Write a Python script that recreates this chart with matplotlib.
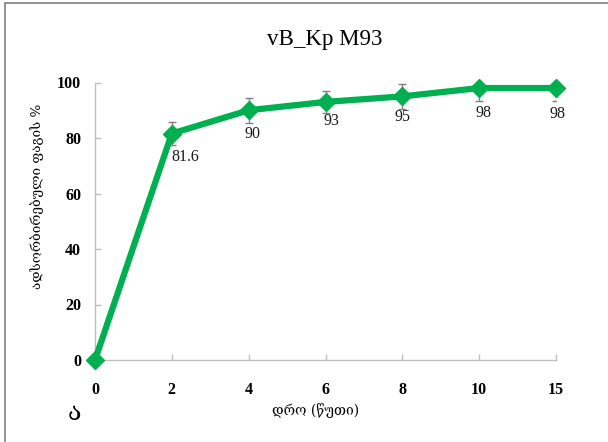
import matplotlib
matplotlib.use("Agg")
import matplotlib.pyplot as plt
from matplotlib.patches import Rectangle

categories = ["0", "2", "4", "6", "8", "10", "15"]
values = [0, 81.6, 90, 93, 95, 98, 98]
errors = [0, 4, 4.5, 4, 4.5, 4.7, 4.7]
labels = ["", "81.6", "90", "93", "95", "98", "98"]
y_ticks = [0, 20, 40, 60, 80, 100]

title = "vB_Kp M93"
ylabel = "ადსორბირებული ფაგის %"
xlabel = "დრო (წუთი)"
panel = "ა"

# label placement (style only, in points)
label_dx = [0, 10, 3, 4, 0, 3, 1]
label_dy = [0, -17, -17, -14, -15, -18, -19]

W, H = 608, 442
fig = plt.figure(figsize=(W / 100, H / 100), dpi=100)
ax = fig.add_axes([95 / W, 1 - 360 / H, (556 - 95) / W, (360 - 82.5) / H])

num_font = ["Liberation Serif", "DejaVu Serif"]
geo_font = ["DejaVu Serif", "DejaVu Sans"]
green = "#00B050"
gray = "#BFBFBF"

x = list(range(len(categories)))
ax.errorbar(x, values, yerr=errors, fmt="none", ecolor="#808080",
            elinewidth=1, capsize=3, capthick=1, zorder=2)
ax.plot(x, values, color=green, lw=4.5, marker="D", ms=9.5,
        mfc=green, mec=green, clip_on=False, zorder=3)

for xi, v, lab, dx, dy in zip(x, values, labels, label_dx, label_dy):
    if lab:
        ax.annotate(lab, (xi, v), xytext=(dx, dy), textcoords="offset points",
                    ha="center", va="center", fontsize=11.5,
                    family=num_font, color="#1a1a1a", zorder=4)

ax.set_xlim(0, len(categories) - 1)
ax.set_ylim(0, 100)
ax.set_xticks(x)
ax.set_xticklabels(categories)
ax.set_yticks(y_ticks)
for lab in ax.get_xticklabels() + ax.get_yticklabels():
    lab.set_family(num_font)
    lab.set_fontweight("bold")
    lab.set_fontsize(11.5)
ax.tick_params(axis="both", direction="in", length=4, color=gray, width=1)
ax.tick_params(axis="x", pad=16)
ax.tick_params(axis="y", pad=10)
for s in ["top", "right"]:
    ax.spines[s].set_visible(False)
for s in ["left", "bottom"]:
    ax.spines[s].set_color(gray)
    ax.spines[s].set_linewidth(1)

fig.text(325 / W, 1 - 39 / H, title, ha="center", va="center",
         fontsize=16.5, family=num_font)
fig.text(37 / W, 1 - 196 / H, ylabel, ha="center", va="center",
         rotation=90, fontsize=9.7, family=geo_font)
fig.text(316 / W, 1 - 411 / H, xlabel, ha="center", va="center",
         fontsize=10, family=geo_font)
fig.text(74 / W, 1 - 413 / H, panel, ha="center", va="center",
         fontsize=18, family=geo_font)

fig.patches.append(Rectangle((5 / W, -0.1), 1.2, 1 - 3 / H + 0.1,
                             transform=fig.transFigure, fill=False,
                             edgecolor="#808080", lw=1.2))

fig.savefig("out.png", dpi=100)
